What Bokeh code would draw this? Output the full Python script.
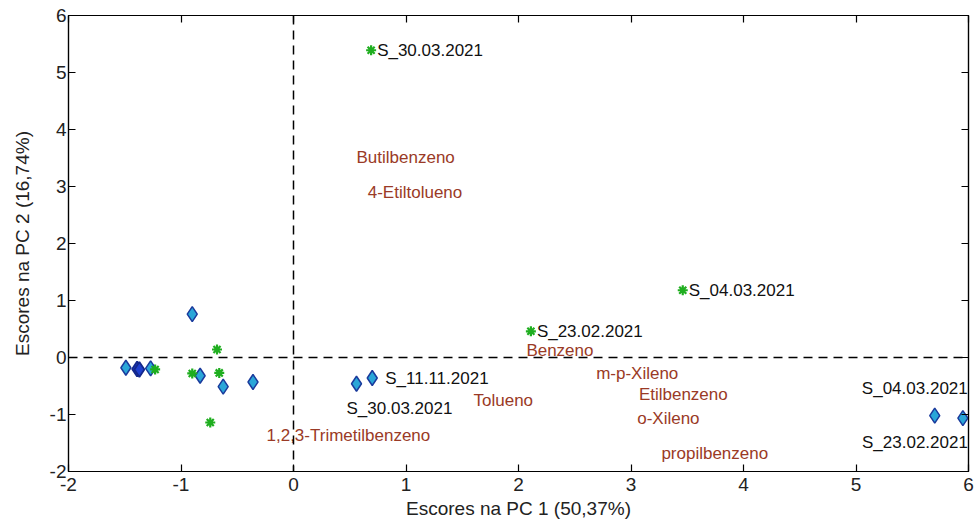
from bokeh.plotting import figure
from bokeh.models import Span, LinearAxis, Range1d, FixedTicker, CustomJSTickFormatter
from bokeh.core.properties import value
from bokeh.embed import file_html
from bokeh.resources import INLINE

# PCA scores: samples of group A (asterisks) and group B (diamonds)
stars_pc1 = [0.69, 3.46, 2.11, -0.68, -0.90, -0.66, -0.74, -1.23]
stars_pc2 = [5.39, 1.18, 0.46, 0.14, -0.28, -0.27, -1.14, -0.21]
stars_label = ["S_30.03.2021", "S_04.03.2021", "S_23.02.2021", "", "", "", "", ""]

diam_pc1 = [-0.90, -1.49, -1.27, -0.83, -0.625, -0.36, 0.56, 0.70, 5.70, 5.95]
diam_pc2 = [0.76, -0.18, -0.19, -0.32, -0.51, -0.43, -0.46, -0.36, -1.02, -1.065]
diam_label = ["", "", "", "", "", "", "S_30.03.2021", "S_11.11.2021", "S_04.03.2021", "S_23.02.2021"]

# overlapping points drawn darker
dark_pc1 = [-1.39, -1.37]
dark_pc2 = [-0.20, -0.21]

# compound loadings (scaled)
comp_names = ["Butilbenzeno", "4-Etiltolueno", "Benzeno", "m-p-Xileno", "Etilbenzeno",
              "o-Xileno", "propilbenzeno", "Tolueno", "1,2,3-Trimetilbenzeno"]
comp_pc1 = [0.56, 0.66, 2.07, 2.69, 3.07, 3.055, 3.27, 1.60, -0.24]
comp_pc2 = [3.51, 2.90, 0.12, -0.28, -0.65, -1.07, -1.68, -0.75, -1.37]

x_ticks = [-2, -1, 0, 1, 2, 3, 4, 5, 6]
y_ticks = [-2, -1, 0, 1, 2, 3, 4, 5, 6]

FONT = "Liberation Sans"

# pixel placement of the diamond sample names: (dx, dy, align)
diam_label_place = {
    6: (-10, 25, "left"),
    7: (13, 0, "left"),
    8: (33, -27, "right"),
    9: (5, 24, "right"),
}

p = figure(width=974, height=525, output_backend="svg", toolbar_location=None,
           x_range=Range1d(-2, 6), y_range=Range1d(-2, 6),
           min_border_left=68, min_border_right=6, min_border_top=15, min_border_bottom=54)
p.grid.visible = False
p.outline_line_color = "black"
p.outline_line_width = 1.2

# plain hyphen for negative tick values
plain = CustomJSTickFormatter(code="return tick.toString();")

for ax in (p.xaxis[0], p.yaxis[0]):
    ax.major_tick_in = 7
    ax.major_tick_out = 0
    ax.minor_tick_line_color = None
    ax.axis_line_color = "black"
    ax.axis_line_width = 1.2
    ax.major_tick_line_width = 1.2
    ax.formatter = plain
    ax.major_label_text_font = FONT
    ax.major_label_text_font_size = "19px"
    ax.major_label_text_color = "#222222"
    ax.axis_label_text_font = FONT
    ax.axis_label_text_font_size = "19px"
    ax.axis_label_text_font_style = "normal"
    ax.axis_label_text_color = "#222222"

p.xaxis[0].ticker = FixedTicker(ticks=x_ticks)
p.yaxis[0].ticker = FixedTicker(ticks=y_ticks)
p.xaxis[0].axis_label = "Escores na PC 1 (50,37%)"
p.yaxis[0].axis_label = "Escores na PC 2 (16,74%)"
p.xaxis[0].major_label_standoff = 6
p.xaxis[0].axis_label_standoff = 4
p.yaxis[0].major_label_standoff = 2
p.yaxis[0].axis_label_standoff = 14

# mirrored ticks on top and right
for loc, ticks in (("above", x_ticks), ("right", y_ticks)):
    a = LinearAxis(ticker=FixedTicker(ticks=ticks))
    a.major_tick_in = 7
    a.major_tick_out = 0
    a.minor_tick_line_color = None
    a.major_label_text_alpha = 0
    a.major_label_text_font_size = "1px"
    a.major_label_standoff = 0
    a.axis_line_width = 1.2
    a.major_tick_line_width = 1.2
    p.add_layout(a, loc)

p.add_layout(Span(location=0, dimension="width", line_color="black",
                  line_dash="9 6", line_width=1.5))
p.add_layout(Span(location=0, dimension="height", line_color="black",
                  line_dash="9 6", line_width=1.5))

# compound names
p.text(x=comp_pc1, y=comp_pc2, text=comp_names, text_color="#9a3a26",
       text_font=value(FONT), text_font_size="17px", text_baseline="middle")

# group B diamonds
p.scatter(diam_pc1, diam_pc2, marker="diamond", size=15, fill_color="#2aa6d8",
          line_color="#1a3a9c", line_width=1.5)
p.scatter(dark_pc1, dark_pc2, marker="diamond", size=15, fill_color="#1f3fcf",
          line_color="#14288c", line_width=1.8)

# group A asterisks
p.scatter(stars_pc1, stars_pc2, marker="asterisk", size=10, line_color="#1fae1f",
          line_width=2.2)

# sample names
sx = [x for x, t in zip(stars_pc1, stars_label) if t]
sy = [y for y, t in zip(stars_pc2, stars_label) if t]
st = [t for t in stars_label if t]
p.text(x=sx, y=sy, text=st, x_offset=6, text_color="#111111", text_font=value(FONT),
       text_font_size="17px", text_baseline="middle")

for i, (dx, dy, align) in diam_label_place.items():
    p.text(x=[diam_pc1[i]], y=[diam_pc2[i]], text=[diam_label[i]], x_offset=dx,
           y_offset=dy, text_align=align, text_color="#111111", text_font=value(FONT),
           text_font_size="17px", text_baseline="middle")

open("out.html", "w").write(file_html(p, INLINE))
